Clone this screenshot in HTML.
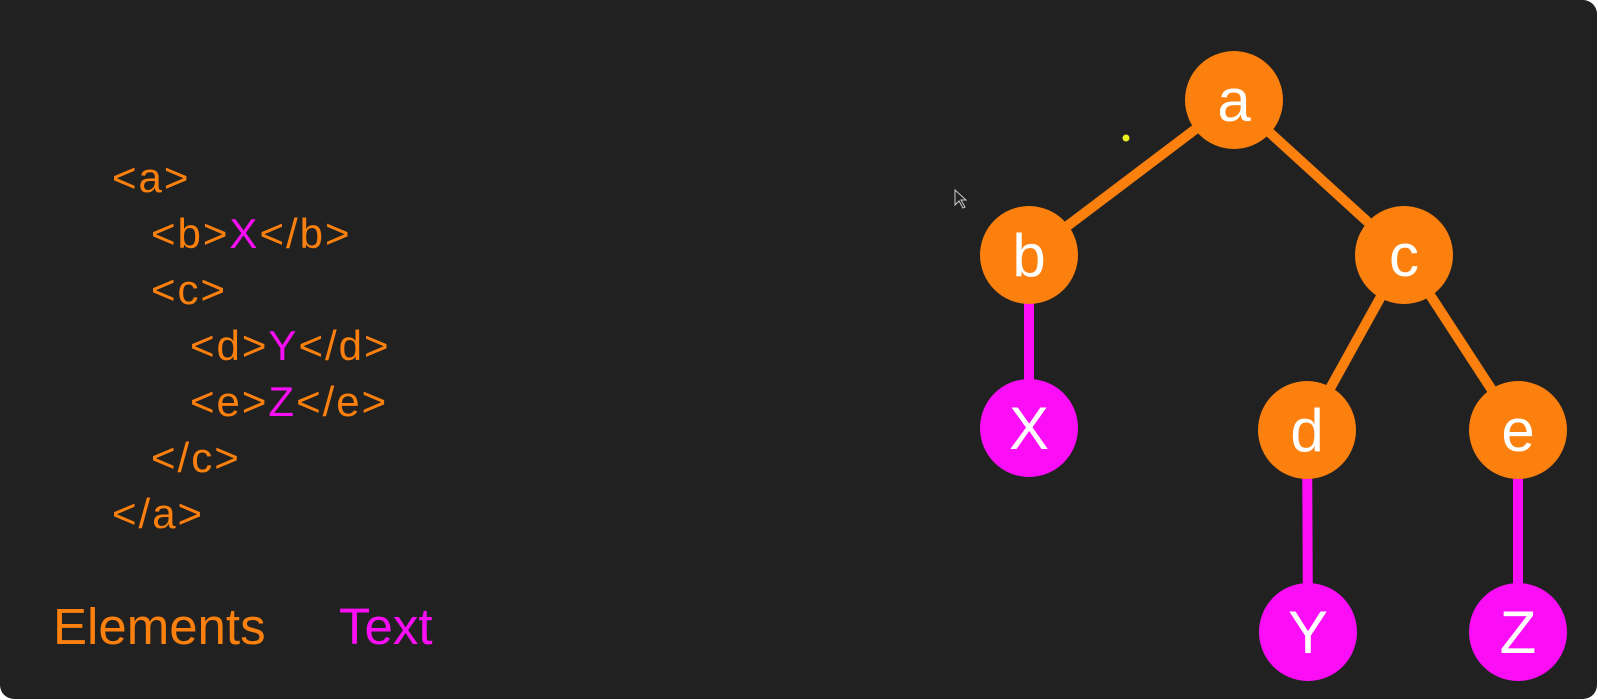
<!DOCTYPE html>
<html><head><meta charset="utf-8">
<style>
html,body{margin:0;padding:0;background:#fff;}
body{width:1598px;height:700px;overflow:hidden;position:relative;font-family:"Liberation Sans",sans-serif;}
#card{position:absolute;left:0;top:0;width:1597px;height:699px;background:#212121;border-radius:0 14px 14px 14px;}
.code{position:absolute;font-size:42px;color:#fb800e;white-space:pre;line-height:1;letter-spacing:2px;}
.t{color:#fb0ef5;}
.leg{position:absolute;font-size:51px;top:597px;}
</style></head><body>
<div id="card">
<div class="code" style="left:112px;top:157px">&lt;a&gt;</div>
<div class="code" style="left:151px;top:213px">&lt;b&gt;<span class="t">X</span>&lt;/b&gt;</div>
<div class="code" style="left:151px;top:269px">&lt;c&gt;</div>
<div class="code" style="left:190px;top:325px">&lt;d&gt;<span class="t">Y</span>&lt;/d&gt;</div>
<div class="code" style="left:190px;top:381px">&lt;e&gt;<span class="t">Z</span>&lt;/e&gt;</div>
<div class="code" style="left:151px;top:437px">&lt;/c&gt;</div>
<div class="code" style="left:112px;top:493px">&lt;/a&gt;</div>
<div class="leg" style="left:53px;color:#fb800e">Elements</div>
<div class="leg" style="left:339px;color:#fb0ef5">Text</div>
<svg id="tree" width="1598" height="700" style="position:absolute;left:0;top:0">
<circle cx="1126" cy="138" r="3.5" fill="#e8f020"/>
<path d="M955 190 L955 205 L959 201 L963 208 L965 207 L961 200 L966 200 Z" fill="#222" stroke="#ccc" stroke-width="1"/>
<g id="edges"></g><g id="nodes"></g>
</svg>
</div>
<script>
const nodeNames=['a','b','c','X','d','e','Y','Z'];
const nodeX=[1234,1029,1404,1029,1307,1518,1308,1518];
const nodeY=[100,255,255,428,430,430,632,632];
const nodeType=['el','el','el','txt','el','el','txt','txt'];
const edgeFrom=[0,0,1,2,2,4,5];
const edgeTo=[1,2,3,4,5,6,7];
const col={el:'#fb800e',txt:'#fb0ef5'};
const NS='http://www.w3.org/2000/svg';
const eg=document.getElementById('edges'),ng=document.getElementById('nodes');
edgeFrom.forEach((f,i)=>{const t=edgeTo[i];const l=document.createElementNS(NS,'line');
l.setAttribute('x1',nodeX[f]);l.setAttribute('y1',nodeY[f]);l.setAttribute('x2',nodeX[t]);l.setAttribute('y2',nodeY[t]);
l.setAttribute('stroke',col[nodeType[t]]);l.setAttribute('stroke-width','10');


eg.appendChild(l);});
nodeNames.forEach((n,i)=>{const g=document.createElementNS(NS,'g');


const c=document.createElementNS(NS,'circle');c.setAttribute('cx',nodeX[i]);c.setAttribute('cy',nodeY[i]);c.setAttribute('r','49');c.setAttribute('fill',col[nodeType[i]]);
const t=document.createElementNS(NS,'text');t.setAttribute('x',nodeX[i]);t.setAttribute('y',nodeY[i]+21);t.setAttribute('text-anchor','middle');
t.setAttribute('font-family','Liberation Sans, sans-serif');t.setAttribute('font-size','60');t.setAttribute('fill','#fff');t.textContent=n;
g.appendChild(c);g.appendChild(t);ng.appendChild(g);});
</script>
</body></html>
